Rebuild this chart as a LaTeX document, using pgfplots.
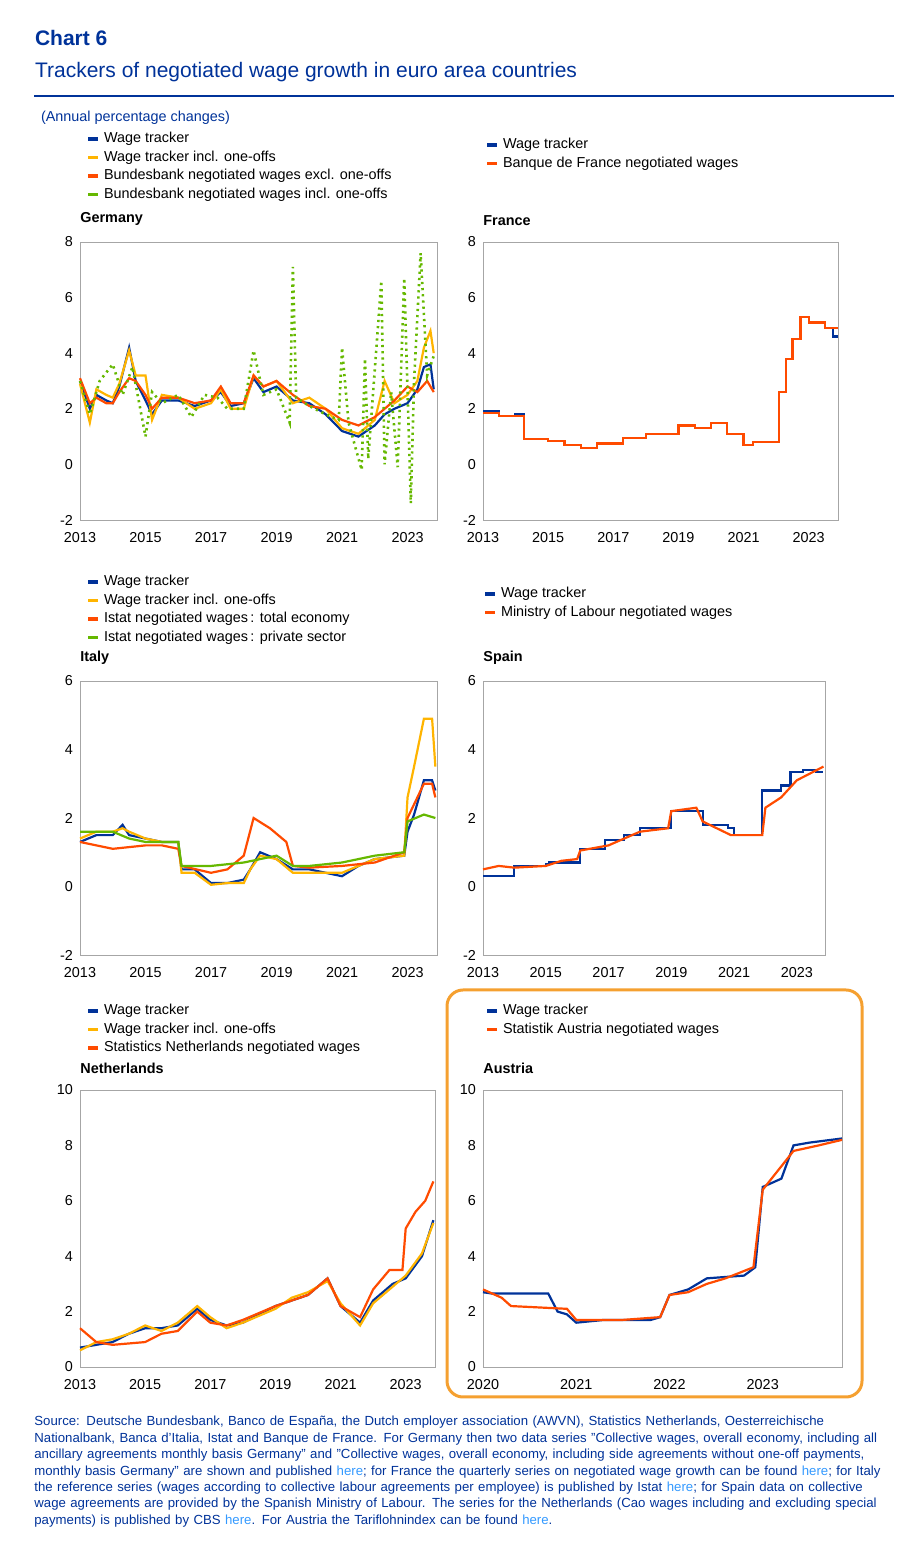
\documentclass[border=0pt]{standalone}
\usepackage{pgfplots}
\pgfplotsset{compat=1.18}
\usepackage{fontspec}
\setmainfont{Liberation Sans}
\definecolor{ecbblue}{HTML}{003299}
\definecolor{ecbyel}{HTML}{FFB400}
\definecolor{ecbor}{HTML}{FF4B00}
\definecolor{ecbgr}{HTML}{65B800}
\definecolor{lnk}{HTML}{3399FF}
\definecolor{boxc}{HTML}{F5A030}
\pgfplotsset{
 every axis/.style={scale only axis, font=\fontsize{7.2}{8}\selectfont,
  /pgf/number format/assume math mode=true, axis line style={gray!70},
  tick style={draw=none}, xtick={2013,2015,...,2023}, xticklabel style={/pgf/number format/1000 sep={},yshift=-2.5pt},
  xmin=2013, xmax=2023.9, clip=false,
  legend cell align=left, legend style={draw=none, fill=none, anchor=north west, at={(0,1)},
   font=\fontsize{7.2}{8.6}\selectfont, row sep=-1.5pt},
  legend image code/.code={\draw[##1,solid,line width=1.8pt] (0pt,0pt) -- (5pt,0pt);}},
 bl/.style={ecbblue, line width=1.1pt},
 ye/.style={ecbyel, line width=1.1pt},
 orr/.style={ecbor, line width=1.1pt},
 gr/.style={ecbgr, line width=1.1pt}
}
\newcommand\ptitle[1]{\node[anchor=south west,font=\fontsize{7.2}{8}\selectfont\bfseries,inner sep=0] at (rel axis cs:0,1) [yshift=8pt]{#1};}
\begin{document}
\begin{tikzpicture}
\path (0pt,0pt) rectangle (450pt,778pt);
\node[anchor=west,font=\fontsize{10.5}{12}\selectfont\bfseries,text=ecbblue] at (14pt,759pt) {Chart 6};
\node[anchor=west,font=\fontsize{10.5}{12}\selectfont,text=ecbblue] at (14pt,742pt) {Trackers of negotiated wage growth in euro area countries};
\draw[ecbblue,line width=0.6pt] (17pt,730pt) -- (447pt,730pt);
\node[anchor=west,font=\fontsize{7.2}{8}\selectfont,text=ecbblue] at (17pt,719pt) {(Annual percentage changes)};
% Germany
\begin{axis}[at={(40pt,518pt)},anchor=south west,width=178.5pt,height=139pt,ymin=-2,ymax=8,ytick={-2,0,...,8},
 legend style={yshift=59pt}]
\ptitle{Germany}
\addplot[bl] coordinates {(2013,3.0)(2013.3,2.0)(2013.5,2.5)(2013.8,2.3)(2014,2.2)(2014.2,2.8)(2014.5,4.2)(2014.7,3.0)(2015,2.3)(2015.2,1.8)(2015.5,2.3)(2016,2.3)(2016.5,2.1)(2017,2.3)(2017.3,2.6)(2017.6,2.1)(2018,2.2)(2018.3,3.1)(2018.6,2.6)(2019,2.8)(2019.5,2.3)(2020,2.2)(2020.5,1.8)(2021,1.2)(2021.5,1.0)(2022,1.4)(2022.3,1.8)(2022.6,2.0)(2023,2.2)(2023.3,2.7)(2023.5,3.5)(2023.7,3.6)(2023.8,2.7)};
\addlegendentry{Wage tracker}
\addplot[ye] coordinates {(2013,2.9)(2013.3,1.5)(2013.5,2.7)(2013.8,2.5)(2014,2.4)(2014.2,2.9)(2014.5,4.1)(2014.7,3.2)(2015,3.2)(2015.2,1.6)(2015.5,2.5)(2016,2.4)(2016.5,2.0)(2017,2.2)(2017.3,2.7)(2017.6,2.0)(2018,2.0)(2018.3,3.2)(2018.6,2.8)(2019,3.0)(2019.5,2.2)(2020,2.4)(2020.5,2.0)(2021,1.3)(2021.5,1.1)(2022,1.6)(2022.3,3.0)(2022.6,2.2)(2023,2.5)(2023.3,3.0)(2023.5,4.2)(2023.7,4.8)(2023.8,4.0)};
\addlegendentry{Wage tracker incl. one-offs}
\addplot[orr] coordinates {(2013,3.1)(2013.3,2.2)(2013.5,2.4)(2013.8,2.2)(2014,2.2)(2014.2,2.6)(2014.5,3.1)(2014.7,3.0)(2015,2.5)(2015.2,2.0)(2015.5,2.4)(2016,2.4)(2016.5,2.2)(2017,2.3)(2017.3,2.8)(2017.6,2.2)(2018,2.2)(2018.3,3.2)(2018.6,2.8)(2019,3.0)(2019.5,2.5)(2020,2.1)(2020.5,2.0)(2021,1.6)(2021.5,1.4)(2022,1.7)(2022.3,2.0)(2022.6,2.3)(2023,2.8)(2023.3,2.6)(2023.6,3.0)(2023.8,2.6)};
\addlegendentry{Bundesbank negotiated wages excl. one-offs}
\addplot[gr,dotted,line width=1.3pt] coordinates {(2013,3.0)(2013.3,1.8)(2013.6,3.0)(2014,3.6)(2014.3,2.5)(2014.6,3.5)(2015,1.0)(2015.2,2.6)(2015.5,2.2)(2016,2.5)(2016.4,1.7)(2016.8,2.5)(2017.2,2.4)(2017.5,2.0)(2018,2.0)(2018.3,4.1)(2018.6,2.5)(2019,2.7)(2019.4,1.5)(2019.5,7.1)(2019.6,2.4)(2020,2.1)(2020.5,1.8)(2020.9,1.6)(2021,4.2)(2021.2,1.5)(2021.6,-0.2)(2021.7,3.8)(2021.8,0.2)(2022,3.4)(2022.2,6.6)(2022.3,0.0)(2022.5,2.6)(2022.7,-0.1)(2022.9,6.7)(2023.1,-1.4)(2023.2,3.0)(2023.4,7.6)(2023.6,3.2)(2023.8,3.9)};
\addlegendentry{Bundesbank negotiated wages incl. one-offs}
\end{axis}
% France
\begin{axis}[at={(241.5pt,518pt)},anchor=south west,width=177.5pt,height=139pt,ymin=-2,ymax=8,ytick={-2,0,...,8},
 legend style={yshift=56pt,xshift=-2pt}]
\ptitle{France}
\addplot[bl,const plot] coordinates {(2013,1.9)(2013.5,1.75)(2014,1.8)(2014.25,0.9)(2015,0.85)(2015.5,0.7)(2016,0.6)(2016.5,0.75)(2017,0.75)(2017.3,0.95)(2018,1.1)(2019,1.4)(2019.5,1.3)(2020,1.5)(2020.5,1.1)(2021,0.7)(2021.3,0.8)(2022,0.8)(2022.1,2.6)(2022.3,3.8)(2022.5,4.5)(2022.75,5.3)(2023,5.1)(2023.5,4.9)(2023.75,4.6)(2023.9,4.6)};
\addlegendentry{Wage tracker}
\addplot[orr,const plot] coordinates {(2013,1.85)(2013.5,1.75)(2014,1.75)(2014.25,0.9)(2015,0.85)(2015.5,0.7)(2016,0.6)(2016.5,0.75)(2017,0.75)(2017.3,0.95)(2018,1.1)(2019,1.4)(2019.5,1.3)(2020,1.5)(2020.5,1.1)(2021,0.7)(2021.3,0.8)(2022,0.8)(2022.1,2.6)(2022.3,3.8)(2022.5,4.5)(2022.75,5.3)(2023,5.1)(2023.5,4.9)(2023.9,4.9)};
\addlegendentry{Banque de France negotiated wages}
\end{axis}
% Italy
\begin{axis}[at={(40pt,300.5pt)},anchor=south west,width=178.5pt,height=137pt,ymin=-2,ymax=6,ytick={-2,0,...,6},
 legend style={yshift=57pt}]
\ptitle{Italy}
\addplot[bl] coordinates {(2013,1.3)(2013.5,1.5)(2014,1.5)(2014.3,1.8)(2014.5,1.5)(2015,1.4)(2015.5,1.3)(2016,1.3)(2016.1,0.5)(2016.5,0.5)(2017,0.1)(2017.5,0.1)(2018,0.2)(2018.2,0.5)(2018.5,1.0)(2019,0.8)(2019.5,0.5)(2020,0.5)(2021,0.3)(2021.5,0.6)(2022,0.8)(2022.9,0.9)(2023,1.6)(2023.2,2.1)(2023.5,3.1)(2023.75,3.1)(2023.85,2.8)};
\addlegendentry{Wage tracker}
\addplot[ye] coordinates {(2013,1.4)(2013.5,1.6)(2014,1.6)(2014.3,1.7)(2014.5,1.6)(2015,1.4)(2015.5,1.3)(2016,1.3)(2016.1,0.4)(2016.5,0.4)(2017,0.05)(2017.5,0.1)(2018,0.1)(2018.2,0.5)(2018.5,0.9)(2019,0.8)(2019.5,0.4)(2020,0.4)(2021,0.4)(2021.5,0.6)(2022,0.8)(2022.9,0.9)(2023,2.6)(2023.2,3.5)(2023.5,4.9)(2023.75,4.9)(2023.85,3.5)};
\addlegendentry{Wage tracker incl. one-offs}
\addplot[orr] coordinates {(2013,1.3)(2013.5,1.2)(2014,1.1)(2015,1.2)(2015.5,1.2)(2016,1.1)(2016.1,0.6)(2017,0.4)(2017.5,0.5)(2018,0.9)(2018.3,2.0)(2018.8,1.7)(2019.3,1.3)(2019.5,0.6)(2020,0.55)(2021,0.6)(2022,0.7)(2022.9,1.0)(2023,2.0)(2023.5,3.0)(2023.75,3.0)(2023.85,2.6)};
\addlegendentry{Istat negotiated wages\,: total economy}
\addplot[gr] coordinates {(2013,1.6)(2014,1.6)(2014.5,1.4)(2015,1.3)(2016,1.3)(2016.1,0.6)(2017,0.6)(2018,0.7)(2019,0.9)(2019.5,0.6)(2020,0.6)(2021,0.7)(2022,0.9)(2022.9,1.0)(2023,1.9)(2023.5,2.1)(2023.85,2.0)};
\addlegendentry{Istat negotiated wages\,: private sector}
\end{axis}
% Spain
\begin{axis}[at={(241.5pt,300.5pt)},anchor=south west,width=171pt,height=137pt,ymin=-2,ymax=6,ytick={-2,0,...,6},
 legend style={yshift=51pt,xshift=-3pt}]
\ptitle{Spain}
\addplot[bl,const plot] coordinates {(2013,0.3)(2014,0.6)(2015,0.65)(2015.1,0.7)(2016.1,1.1)(2016.9,1.35)(2017.5,1.5)(2018,1.7)(2019,2.2)(2019.5,2.2)(2020,1.8)(2020.8,1.7)(2021,1.5)(2021.9,2.8)(2022.5,2.95)(2022.8,3.35)(2023.2,3.4)(2023.6,3.35)(2023.85,3.35)};
\addlegendentry{Wage tracker}
\addplot[orr] coordinates {(2013,0.5)(2013.5,0.6)(2014,0.55)(2015,0.6)(2015.5,0.75)(2016,0.8)(2016.1,1.05)(2017,1.2)(2018,1.6)(2018.9,1.7)(2019,2.2)(2019.8,2.3)(2020,1.9)(2020.9,1.5)(2021.9,1.5)(2022,2.3)(2022.5,2.6)(2023,3.1)(2023.85,3.5)};
\addlegendentry{Ministry of Labour negotiated wages}
\end{axis}
% Netherlands
\begin{axis}[at={(40pt,94.5pt)},anchor=south west,width=177.5pt,height=138.5pt,ymin=0,ymax=10,ytick={0,2,...,10},
 legend style={yshift=47pt}]
\ptitle{Netherlands}
\addplot[bl] coordinates {(2013,0.7)(2013.5,0.8)(2014,0.9)(2014.5,1.2)(2015,1.4)(2015.5,1.4)(2016,1.5)(2016.6,2.1)(2017,1.7)(2017.5,1.5)(2018,1.6)(2019,2.2)(2019.5,2.4)(2020,2.6)(2020.6,3.2)(2021,2.2)(2021.6,1.6)(2022,2.4)(2022.6,3.0)(2023,3.2)(2023.5,4.0)(2023.85,5.3)};
\addlegendentry{Wage tracker}
\addplot[ye] coordinates {(2013,0.6)(2013.5,0.9)(2014,1.0)(2014.5,1.2)(2015,1.5)(2015.5,1.3)(2016,1.6)(2016.6,2.2)(2017,1.8)(2017.5,1.4)(2018,1.6)(2019,2.1)(2019.5,2.5)(2020,2.7)(2020.6,3.1)(2021,2.3)(2021.6,1.5)(2022,2.3)(2022.6,2.9)(2023,3.3)(2023.5,4.1)(2023.85,5.2)};
\addlegendentry{Wage tracker incl. one-offs}
\addplot[orr] coordinates {(2013,1.4)(2013.5,0.9)(2014,0.8)(2015,0.9)(2015.5,1.2)(2016,1.3)(2016.6,2.0)(2017,1.6)(2017.5,1.5)(2018,1.7)(2019,2.2)(2019.5,2.4)(2020,2.6)(2020.6,3.2)(2021,2.2)(2021.6,1.8)(2022,2.8)(2022.5,3.5)(2022.9,3.5)(2023,5.0)(2023.3,5.6)(2023.6,6.0)(2023.85,6.7)};
\addlegendentry{Statistics Netherlands negotiated wages}
\end{axis}
% Austria
\draw[boxc,line width=1.5pt,rounded corners=8pt] (223.5pt,79.5pt) rectangle (431pt,283pt);
\begin{axis}[at={(241.5pt,94.5pt)},anchor=south west,width=179.5pt,height=138.5pt,ymin=0,ymax=10,ytick={0,2,...,10},
 xmin=2020,xmax=2023.85,xtick={2020,2021,2022,2023},legend style={yshift=47pt,xshift=-2pt}]
\ptitle{Austria}
\addplot[bl] coordinates {(2020,2.7)(2020.1,2.65)(2020.7,2.65)(2020.8,2.0)(2020.9,1.9)(2021,1.6)(2021.3,1.7)(2021.8,1.7)(2021.9,1.8)(2022,2.6)(2022.2,2.8)(2022.4,3.2)(2022.8,3.3)(2022.92,3.6)(2023,6.5)(2023.2,6.8)(2023.33,8.0)(2023.5,8.1)(2023.85,8.25)};
\addlegendentry{Wage tracker}
\addplot[orr] coordinates {(2020,2.8)(2020.2,2.5)(2020.3,2.2)(2020.9,2.1)(2021,1.7)(2021.5,1.7)(2021.9,1.8)(2022,2.6)(2022.2,2.7)(2022.4,3.0)(2022.6,3.2)(2022.9,3.6)(2023,6.4)(2023.33,7.8)(2023.6,8.0)(2023.85,8.2)};
\addlegendentry{Statistik Austria negotiated wages}
\end{axis}
\node[anchor=north west,text width=428pt,align=left,inner sep=0,text=ecbblue,font=\fontsize{6.6}{8.2}\selectfont,
 execute at begin node={\hyphenpenalty=10000\exhyphenpenalty=10000}] at (17pt,70pt) {Source: Deutsche Bundesbank, Banco de España, the Dutch employer association (AWVN), Statistics Netherlands, Oesterreichische Nationalbank, Banca d’Italia, Istat and Banque de France. For Germany then two data series "Collective wages, overall economy, including all ancillary agreements monthly basis Germany" and "Collective wages, overall economy, including side agreements without one-off payments, monthly basis Germany" are shown and published \textcolor{lnk}{here}; for France the quarterly series on negotiated wage growth can be found \textcolor{lnk}{here}; for Italy the reference series (wages according to collective labour agreements per employee) is published by Istat \textcolor{lnk}{here}; for Spain data on collective wage agreements are provided by the Spanish Ministry of Labour. The series for the Netherlands (Cao wages including and excluding special payments) is published by CBS \textcolor{lnk}{here}. For Austria the Tariflohnindex can be found \textcolor{lnk}{here}.};
\end{tikzpicture}
\end{document}
